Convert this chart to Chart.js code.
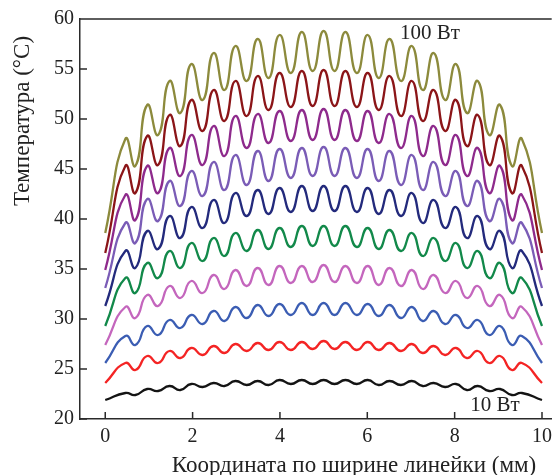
<!DOCTYPE html>
<html>
<head>
<meta charset="utf-8">
<script src="https://cdn.jsdelivr.net/npm/chart.js@4.4.1/dist/chart.umd.min.js"></script>
<style>
html,body{margin:0;padding:0;background:#fff;overflow:hidden;}
canvas{display:block;}
</style>
</head>
<body>
<canvas id="c" width="558" height="475"></canvas>
<script>
// x positions of start, peaks/troughs and end (mm)
const xs = [0, 0.46, 0.69, 0.96, 1.21, 1.47, 1.72, 1.97, 2.23, 2.48, 2.73, 2.98, 3.24, 3.49, 3.74, 3.99, 4.25, 4.50, 4.75, 5.00,
            5.25, 5.50, 5.76, 6.01, 6.26, 6.51, 6.77, 7.02, 7.27, 7.52, 7.78, 8.03, 8.28, 8.53, 8.79, 9.04, 9.31, 9.54, 10];

const w100 = [38.6,48.0,45.3,51.4,48.4,53.8,50.6,55.5,51.9,56.6,52.9,57.3,53.8,58.0,54.1,58.4,54.6,58.7,54.8,58.8,
              54.8,58.7,54.6,58.4,54.1,58.0,53.8,57.3,52.9,56.6,51.9,55.5,50.6,53.8,48.4,51.4,45.3,48.0,38.6];
const w90  = [36.6,45.3,42.6,48.3,45.4,50.4,47.3,51.9,48.8,52.9,49.8,53.8,50.3,54.3,50.9,54.6,51.2,54.8,51.3,54.9,
              51.3,54.8,51.2,54.6,50.9,54.3,50.3,53.8,49.8,52.9,48.8,51.9,47.3,50.4,45.4,48.3,42.6,45.3,36.6];
const w80  = [34.9,42.4,39.9,45.3,42.6,47.1,44.3,48.4,45.4,49.3,46.3,50.3,47.1,50.5,47.6,50.8,47.8,50.9,47.9,51.0,
              47.9,50.9,47.8,50.8,47.6,50.5,47.1,50.3,46.3,49.3,45.4,48.4,44.3,47.1,42.6,45.3,39.9,42.4,34.9];
const w70  = [33.1,39.6,37.6,42.0,39.8,43.8,41.3,44.8,42.3,45.7,42.9,46.4,43.4,46.8,43.8,47.0,44.1,47.1,44.3,47.2,
              44.3,47.1,44.1,47.0,43.8,46.8,43.4,46.4,42.9,45.7,42.3,44.8,41.3,43.8,39.8,42.0,37.6,39.6,33.1];
const w60  = [31.3,36.8,35.1,38.8,37.0,40.3,38.1,41.2,39.1,41.9,39.6,42.6,40.3,42.9,40.5,43.1,40.7,43.3,40.8,43.3,
              40.8,43.3,40.7,43.1,40.5,42.9,40.3,42.6,39.6,41.9,39.1,41.2,38.1,40.3,37.0,38.8,35.1,36.8,31.3];
const w50  = [29.3,34.1,32.6,35.6,34.1,36.8,35.1,37.6,35.8,38.1,36.3,38.6,36.8,38.9,37.0,39.1,37.2,39.3,37.3,39.3,
              37.3,39.3,37.2,39.1,37.0,38.9,36.8,38.6,36.3,38.1,35.8,37.6,35.1,36.8,34.1,35.6,32.6,34.1,29.3];
const w40  = [27.4,31.2,30.1,32.4,31.3,33.3,32.1,33.8,32.6,34.4,33.0,34.9,33.3,35.1,33.4,35.3,33.6,35.3,33.7,35.4,
              33.7,35.3,33.6,35.3,33.4,35.1,33.3,34.9,33.0,34.4,32.6,33.8,32.1,33.3,31.3,32.4,30.1,31.2,27.4];
const w30  = [25.6,28.3,27.4,29.3,28.4,29.9,29.1,30.4,29.5,30.8,29.8,31.2,30.1,31.4,30.3,31.5,30.4,31.6,30.4,31.6,
              30.4,31.6,30.4,31.5,30.3,31.4,30.1,31.2,29.8,30.8,29.5,30.4,29.1,29.9,28.4,29.3,27.4,28.3,25.6];
const w20  = [23.6,25.6,24.9,26.3,25.6,26.8,26.1,27.1,26.4,27.3,26.6,27.5,26.8,27.6,26.9,27.7,26.9,27.7,27.0,27.8,
              27.0,27.7,26.9,27.7,26.9,27.6,26.8,27.5,26.6,27.3,26.4,27.1,26.1,26.8,25.6,26.3,24.9,25.6,23.6];
const w10  = [21.9,22.6,22.4,23.0,22.8,23.3,22.9,23.5,23.2,23.6,23.3,23.8,23.4,23.8,23.4,23.9,23.5,23.9,23.5,23.9,
              23.5,23.9,23.5,23.9,23.4,23.8,23.4,23.8,23.3,23.6,23.2,23.5,22.9,23.3,22.8,23.0,22.4,22.6,21.9];

const seriesNames = ['100 Вт','90 Вт','80 Вт','70 Вт','60 Вт','50 Вт','40 Вт','30 Вт','20 Вт','10 Вт'];
const seriesValues = [w100, w90, w80, w70, w60, w50, w40, w30, w20, w10];
const seriesColors = ['#8c8a3c','#8b1518','#8e2a8c','#7a5cb6','#232a7c','#12894a','#c466bd','#3b5db3','#f42424','#141414'];

const xTicks = [0, 2, 4, 6, 8, 10];
const yTicks = [20, 25, 30, 35, 40, 45, 50, 55, 60];

const xTitle = 'Координата по ширине линейки (мм)';
const yTitle = 'Температура (°C)';

const FONT = '"Liberation Serif", "Times New Roman", serif';
const AXIS = '#2a2a2a';

const decor = {
  id: 'decor',
  afterDraw(chart) {
    const {ctx, chartArea: a, scales: {x, y}} = chart;
    ctx.save();
    ctx.strokeStyle = AXIS;
    ctx.lineWidth = 1.5;
    ctx.beginPath();
    ctx.moveTo(a.left, a.top); ctx.lineTo(a.right, a.top);
    xTicks.forEach(v => { const p = x.getPixelForValue(v); ctx.moveTo(p, a.bottom); ctx.lineTo(p, a.bottom - 7); });
    yTicks.forEach(v => { const p = y.getPixelForValue(v); ctx.moveTo(a.left, p); ctx.lineTo(a.left + 7, p); });
    ctx.stroke();
    ctx.fillStyle = '#222';
    ctx.textAlign = 'center';
    ctx.textBaseline = 'middle';
    ctx.font = '21px ' + FONT;
    ctx.fillText(seriesNames[0], 430, 33);
    ctx.fillText(seriesNames[9], 495, 405);
    ctx.font = '23px ' + FONT;
    ctx.fillText(xTitle, 354, 466);
    ctx.translate(23, 121);
    ctx.rotate(-Math.PI / 2);
    ctx.fillText(yTitle, 0, 0);
    ctx.restore();
  }
};

new Chart(document.getElementById('c'), {
  type: 'line',
  data: {
    datasets: seriesValues.map((vals, i) => ({
      label: seriesNames[i],
      data: xs.map((xv, j) => ({x: xv, y: vals[j]})),
      borderColor: seriesColors[i],
      backgroundColor: seriesColors[i],
      borderWidth: 2.3,
      pointRadius: 0,
      fill: false,
      tension: 0.55
    }))
  },
  options: {
    responsive: false,
    animation: false,
    layout: {padding: {top: 19, right: 0, bottom: 0, left: 0}},
    plugins: {legend: {display: false}, tooltip: {enabled: false}},
    scales: {
      x: {
        type: 'linear',
        min: -0.578, max: 10.222,
        afterBuildTicks: s => { s.ticks = xTicks.map(v => ({value: v})); },
        afterFit: s => { s.height = 56; },
        grid: {display: false, drawTicks: false},
        border: {display: true, color: AXIS, width: 1.5},
        ticks: {font: {family: FONT, size: 20}, color: '#222', padding: 6, maxRotation: 0, autoSkip: false}
      },
      y: {
        min: 20, max: 60,
        afterBuildTicks: s => { s.ticks = yTicks.map(v => ({value: v})); },
        afterFit: s => { s.width = 80; },
        grid: {display: false, drawTicks: false},
        border: {display: true, color: AXIS, width: 1.5},
        ticks: {font: {family: FONT, size: 20}, color: '#222', padding: 6, autoSkip: false}
      }
    }
  },
  plugins: [decor]
});
</script>
</body>
</html>
